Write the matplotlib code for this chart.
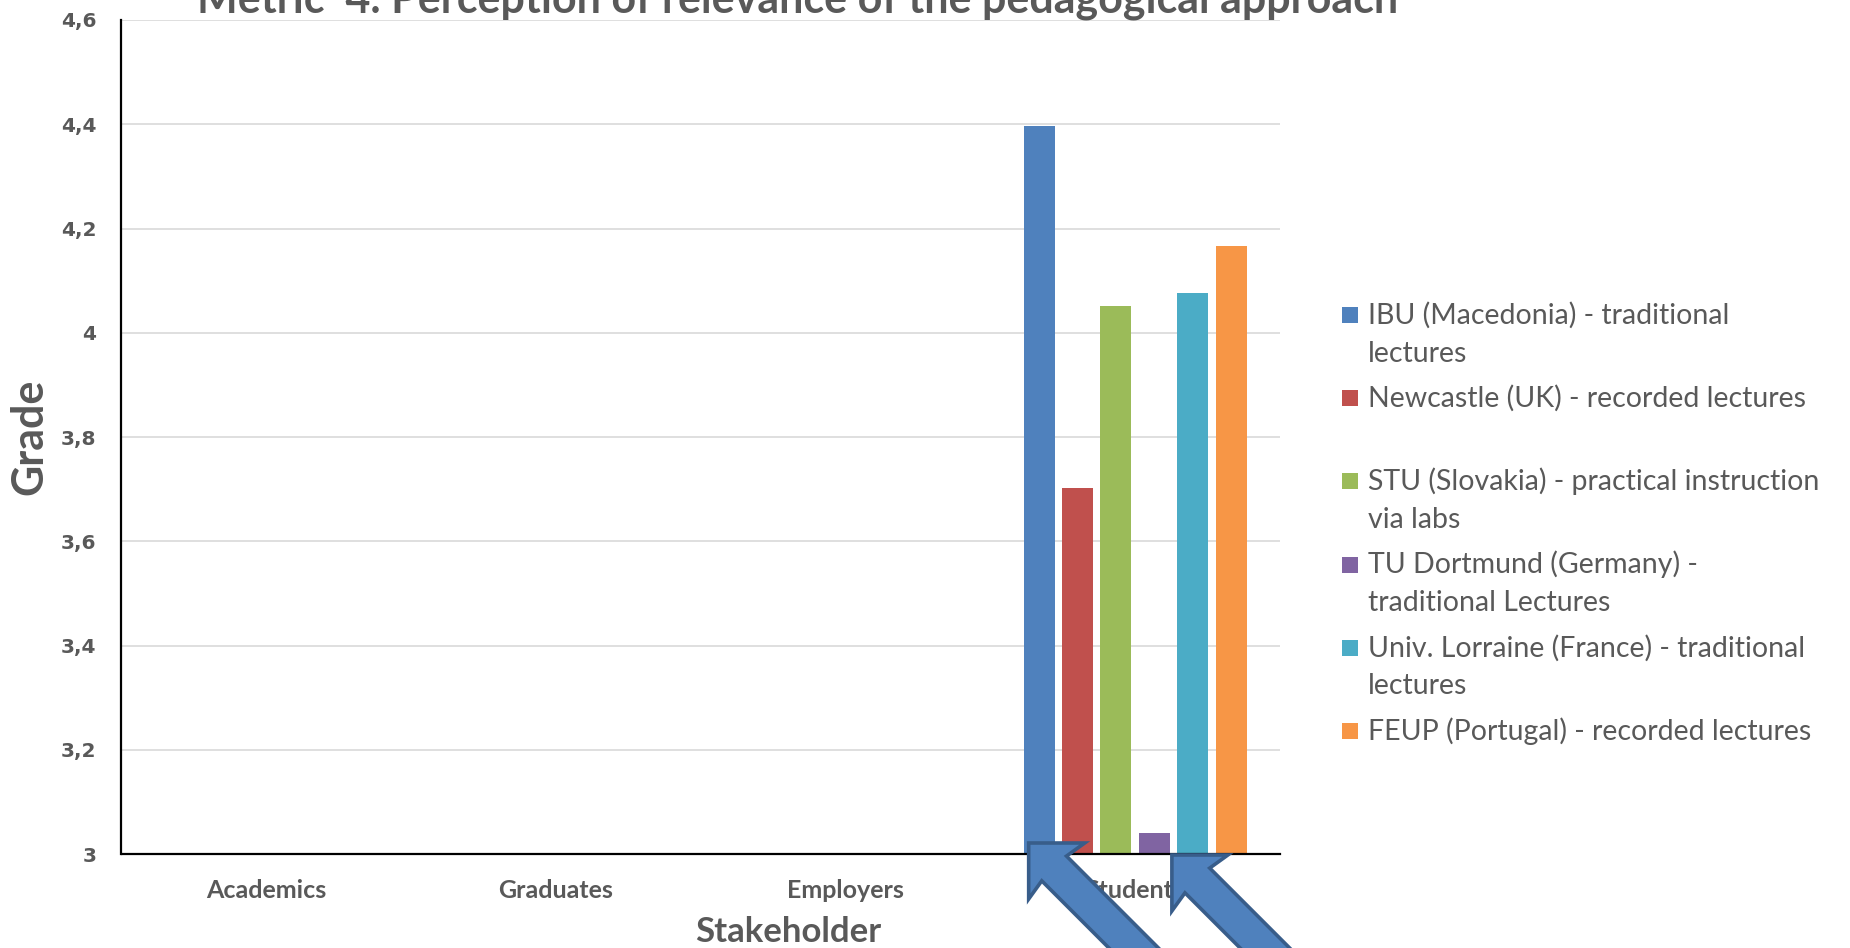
import numpy as np
import matplotlib
matplotlib.use("Agg")
import matplotlib.pyplot as plt
from matplotlib.patches import Polygon, Rectangle
from matplotlib.transforms import IdentityTransform

# ---------------- data ----------------
categories = ["Academics", "Graduates", "Employers", "Students"]
series_names = [
    "IBU (Macedonia) - traditional\nlectures",
    "Newcastle (UK) - recorded lectures\n",
    "STU (Slovakia) - practical instruction\nvia labs",
    "TU Dortmund (Germany) -\ntraditional Lectures",
    "Univ. Lorraine (France) - traditional\nlectures",
    "FEUP (Portugal) - recorded lectures",
]
nan = np.nan
ibu = [nan, nan, nan, 4.396]
newcastle = [nan, nan, nan, 3.702]
stu = [nan, nan, nan, 4.051]
dortmund = [nan, nan, nan, 3.040]
lorraine = [nan, nan, nan, 4.077]
feup = [nan, nan, nan, 4.166]
series_values = [ibu, newcastle, stu, dortmund, lorraine, feup]
colors = ["#4F81BD", "#C0504D", "#9BBB59", "#8064A2", "#4BACC6", "#F79646"]
y_ticks = [3.0, 3.2, 3.4, 3.6, 3.8, 4.0, 4.2, 4.4, 4.6]
y_tick_labels = ["3", "3,2", "3,4", "3,6", "3,8", "4", "4,2", "4,4", "4,6"]
title = "Metric  4. Perception of relevance of the pedagogical approach"
xlabel = "Stakeholder"
ylabel = "Grade"

# ---------------- style ----------------
FONT = "Lato"
TXT = "#595959"
W, H = 1850, 948
fig = plt.figure(figsize=(W / 100, H / 100), dpi=100)
ax = fig.add_axes([121.5 / W, 1 - 854 / H, (1280 - 121.5) / W, (854 - 20) / H])

pitch = 0.1326
bw = 0.107
x = np.arange(len(categories))
n = len(series_values)
bars = []
for i, (vals, c) in enumerate(zip(series_values, colors)):
    off = (i - (n - 1) / 2) * pitch
    vals = np.asarray(vals, dtype=float)
    ax.bar(x + off, vals - 3.0, bottom=3.0, width=bw, color=c, zorder=3)
    bars.append((x + off, vals))

ax.set_xlim(-0.5, len(categories) - 0.5)
ax.set_ylim(3.0, 4.6)
ax.set_yticks(y_ticks)
ax.set_yticklabels(y_tick_labels, fontfamily="DejaVu Sans", fontweight="bold",
                   fontsize=14.5, color=TXT)
ax.set_xticks(x)
ax.set_xticklabels(categories, fontfamily=FONT, fontweight="bold", fontsize=18, color=TXT)
ax.tick_params(axis="both", length=0)
ax.tick_params(axis="y", pad=18)
ax.tick_params(axis="x", pad=18)
ax.grid(axis="y", color="#D9D9D9", lw=1.2, zorder=0)
ax.set_axisbelow(True)
for s in ["top", "right"]:
    ax.spines[s].set_visible(False)
for s in ["left", "bottom"]:
    ax.spines[s].set_color("black")
    ax.spines[s].set_linewidth(1.6)
    ax.spines[s].set_zorder(4)

# titles
fig.text(798 / W, 1 - 13 / H, title, ha="center", va="baseline", fontfamily=FONT,
         fontweight="bold", fontsize=31, color=TXT)
fig.text(788 / W, 1 - 932 / H, xlabel, ha="center", va="center", fontfamily=FONT,
         fontweight="bold", fontsize=25, color=TXT)
fig.text(29.5 / W, 1 - 437 / H, ylabel, ha="center", va="center", rotation=90,
         fontfamily=FONT, fontweight="bold", fontsize=31, color=TXT)

# ---------------- legend (manual, Excel style) ----------------
line_step = 38.6
entry_gap = 6.0
y_cur = 315.0  # first line centre (pixel, from top)
for name, c in zip(series_names, colors):
    lines = name.split("\n")
    fig.add_artist(Rectangle((1342 / W, 1 - (y_cur + 8) / H), 16 / W, 16 / H,
                             transform=fig.transFigure, facecolor=c, edgecolor="none"))
    for j, ln in enumerate(lines):
        fig.text(1368 / W, 1 - (y_cur + j * line_step) / H, ln, ha="left", va="center",
                 fontfamily=FONT, fontsize=20.5, color=TXT)
    y_cur += len(lines) * line_step + entry_gap

# ---------------- block arrows (annotations) ----------------
def block_arrow(tip_disp):
    tx, ty = tip_disp
    L = 260.0
    pts_al = [(0, 0), (39.6, 39.6), (36.0, 17.5), (L, 17.5), (L, -17.5), (36.0, -17.5), (39.6, -39.6)]
    ua = np.array([1, -1]) / np.sqrt(2)   # along: down-right in display coords
    up = np.array([1, 1]) / np.sqrt(2)
    pts = [(tx + a * ua[0] + p * up[0], ty + a * ua[1] + p * up[1]) for a, p in pts_al]
    poly = Polygon(pts, closed=True, facecolor="#4F81BD", edgecolor="#385D8A", lw=2.6,
                   transform=IdentityTransform(), zorder=10, joinstyle="miter")
    fig.add_artist(poly)

# arrow 1 points at the IBU bar foot, arrow 2 at the Dortmund bar foot
xb0, _ = bars[0]
xb3, _ = bars[3]
t1 = ax.transData.transform((xb0[3] - bw / 2, 3.0))
t2 = ax.transData.transform((xb3[3] + bw / 2, 3.0))
block_arrow((t1[0] + 5, t1[1] + 11))
block_arrow((t2[0] + 2, t2[1] - 1))

fig.savefig("out.png", dpi=100)
